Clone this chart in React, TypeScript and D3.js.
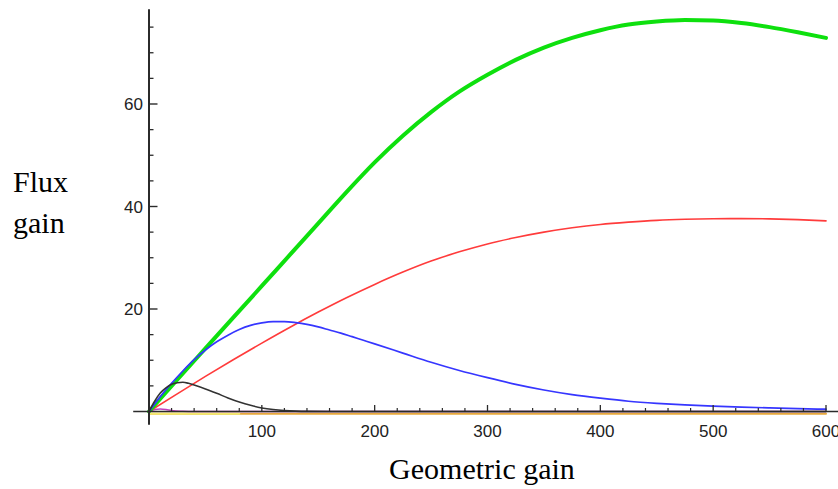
import React from "react";
import * as d3 from "d3";

// x = geometric gain, y = flux gain
const greenPts: [number, number][] = [
  [0, 0], [25, 6.2], [50, 12.3], [75, 18.4], [100, 24.5], [125, 30.6], [150, 36.7], [175, 42.8],
  [200, 48.6], [225, 53.8], [250, 58.4], [275, 62.4], [300, 65.7], [325, 68.6], [350, 71.0],
  [375, 72.9], [400, 74.4], [425, 75.5], [450, 76.1], [475, 76.4], [500, 76.3], [525, 75.8],
  [550, 75.0], [575, 74.0], [600, 72.9],
];
const redPts: [number, number][] = [
  [0, 0], [25, 3.45], [50, 6.85], [75, 10.15], [100, 13.35], [125, 16.45], [150, 19.4],
  [175, 22.2], [200, 24.8], [225, 27.2], [250, 29.35], [275, 31.15], [300, 32.7], [325, 33.95],
  [350, 35.0], [375, 35.85], [400, 36.5], [425, 36.95], [450, 37.3], [475, 37.5], [500, 37.6],
  [525, 37.64], [550, 37.59], [575, 37.44], [600, 37.19],
];
const bluePts: [number, number][] = [
  [0, 0], [10, 2.9], [20, 5.5], [30, 7.9], [40, 10.1], [50, 12.0], [60, 13.6], [70, 14.9],
  [80, 16.0], [90, 16.8], [100, 17.3], [110, 17.55], [120, 17.55], [130, 17.35], [140, 17.0],
  [150, 16.5], [160, 15.9], [170, 15.3], [180, 14.6], [190, 13.9], [200, 13.2], [225, 11.4],
  [250, 9.6], [275, 8.0], [300, 6.6], [325, 5.3], [350, 4.2], [375, 3.3], [400, 2.6],
  [425, 2.0], [450, 1.6], [475, 1.3], [500, 1.05], [525, 0.85], [550, 0.7], [575, 0.55],
  [600, 0.45],
];
const blackPts: [number, number][] = [
  [0, 0], [5, 2.0], [10, 3.6], [15, 4.6], [20, 5.3], [25, 5.6], [30, 5.7], [35, 5.5],
  [40, 5.15], [50, 4.4], [60, 3.55], [70, 2.65], [80, 1.85], [90, 1.2], [100, 0.7], [110, 0.38],
  [120, 0.18], [130, 0.07], [140, 0.02], [160, 0], [600, 0],
];
const magentaPts: [number, number][] = [
  [0, 0], [5, 0.4], [10, 0.5], [15, 0.4], [20, 0.2], [30, 0.05], [40, 0], [600, 0],
];
const orangePts: [number, number][] = [[0, -0.45], [600, -0.45]];
const yellowPts: [number, number][] = [[0, -0.45], [80, -0.45]];

const xMajor = [100, 200, 300, 400, 500, 600];
const xMinor = d3.range(20, 601, 20).filter((v) => v % 100 !== 0);
const yMajor = [20, 40, 60];
const yMinor = d3.range(5, 76, 5).filter((v) => v % 20 !== 0);

const W = 838;
const H = 489;

export default function App() {
  const x = d3.scaleLinear().domain([0, 600]).range([149, 826]);
  const y = d3.scaleLinear().domain([0, 60]).range([411.5, 104]);
  const line = d3
    .line<[number, number]>()
    .x((d) => x(d[0]))
    .y((d) => y(d[1]))
    .curve(d3.curveMonotoneX);

  const series = [
    { pts: orangePts, color: "#e8a83c", w: 2 },
    { pts: yellowPts, color: "#f4ea70", w: 2 },
    { pts: magentaPts, color: "#c040c0", w: 1.5 },
    { pts: redPts, color: "#ff3b3b", w: 1.6 },
    { pts: greenPts, color: "#0ee00e", w: 4 },
    { pts: bluePts, color: "#3636ff", w: 1.7 },
    { pts: blackPts, color: "#333333", w: 1.6 },
  ];

  const tickFont = "'Liberation Sans', Arial, sans-serif";
  const labelFont = "'Liberation Serif', 'Times New Roman', serif";
  const axisColor = "#2b2b2b";

  return (
    <svg
      width={W}
      height={H}
      style={{ position: "absolute", left: 0, top: 0, background: "#fff" }}
    >
      {series.map((s, i) => (
        <path
          key={i}
          d={line(s.pts) || ""}
          fill="none"
          stroke={s.color}
          strokeWidth={s.w}
          strokeLinejoin="round"
          strokeLinecap="round"
        />
      ))}
      {/* x axis */}
      <line x1={x(-14)} x2={W} y1={y(0)} y2={y(0)} stroke={axisColor} strokeWidth={1.6} />
      {xMinor.map((v) => (
        <line key={"xm" + v} x1={x(v)} x2={x(v)} y1={y(0)} y2={y(0) - 3.5} stroke={axisColor} strokeWidth={1.2} />
      ))}
      {xMajor.map((v) => (
        <g key={"xM" + v}>
          <line x1={x(v)} x2={x(v)} y1={y(0)} y2={y(0) - 6.5} stroke={axisColor} strokeWidth={1.3} />
          <text x={x(v)} y={437} textAnchor="middle" fontFamily={tickFont} fontSize={17} fill="#222">
            {v}
          </text>
        </g>
      ))}
      {/* y axis */}
      <line x1={x(0)} x2={x(0)} y1={y(78.5)} y2={y(-2.6)} stroke={axisColor} strokeWidth={2} />
      {yMinor.map((v) => (
        <line key={"ym" + v} x1={x(0)} x2={x(0) + 4.5} y1={y(v)} y2={y(v)} stroke={axisColor} strokeWidth={1.3} />
      ))}
      {yMajor.map((v) => (
        <g key={"yM" + v}>
          <line x1={x(0)} x2={x(0) + 8.5} y1={y(v)} y2={y(v)} stroke={axisColor} strokeWidth={1.4} />
          <text x={x(0) - 6} y={y(v) + 6} textAnchor="end" fontFamily={tickFont} fontSize={17} fill="#222">
            {v}
          </text>
        </g>
      ))}
      {/* axis labels */}
      <text x={13} y={192} fontFamily={labelFont} fontSize={30} fill="#000">
        Flux
      </text>
      <text x={13} y={233} fontFamily={labelFont} fontSize={30} fill="#000">
        gain
      </text>
      <text x={482} y={479} textAnchor="middle" fontFamily={labelFont} fontSize={30} fill="#000">
        Geometric gain
      </text>
    </svg>
  );
}
